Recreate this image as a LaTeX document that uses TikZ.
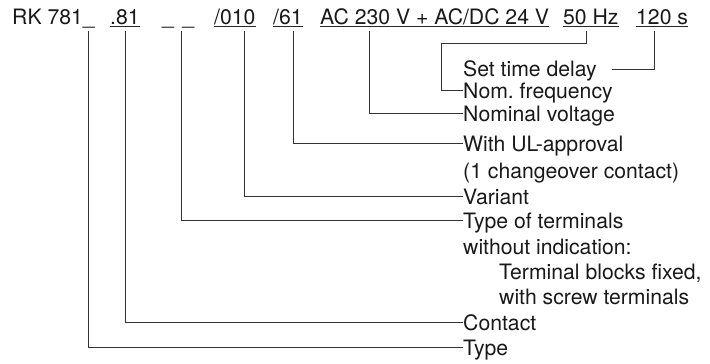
\documentclass[tikz,border=0pt]{standalone}
\usepackage{fontspec}
\setmainfont{TeX Gyre Heros}
\frenchspacing
\begin{document}
\begin{tikzpicture}[x=1pt,y=-1pt,
  txt/.style={inner sep=0pt,anchor=base west,text=black!90,text height=15pt,text depth=0pt,
    font=\fontsize{21.2}{25}\selectfont},
  conn/.style={draw=black!80,line width=1pt},
  uline/.style={draw=black!85,line width=1pt}]
\useasboundingbox (0,0) rectangle (710,364);
% top code row
\node[txt] (rk)  at (12,24)  {RK 781\_};
\node[txt] (n81) at (110,24) {.81};
\node[txt] (nbl) at (162,24) {\_\hspace{8.5pt}\_};
\node[txt] (n010) at (214,24) {/010};
\node[txt] (n61) at (273,24) {/61};
\node[txt] (nac) at (320,24) {AC 230 V + AC/DC 24 V};
\node[txt] (nhz) at (563,24) {50 Hz};
\node[txt] (ns)  at (636,24) {120 s};
\foreach \n in {n81,n010,n61,nac,nhz,ns}{
  \draw[uline] ([yshift=-2pt]\n.base west) -- ([yshift=-2pt]\n.base east);
}
% labels
\node[txt] (st)  at (463,76)  {Set time delay};
\node[txt] (nf)  at (463,98)  {Nom. frequency};
\node[txt] (nv)  at (463,121) {Nominal voltage};
\node[txt] (ul)  at (463,151) {With UL-approval};
\node[txt] (ul2) at (463,178) {(1 changeover contact)};
\node[txt] (var) at (463,204) {Variant};
\node[txt] (tt)  at (463,228) {Type of terminals};
\node[txt] (wi)  at (463,254) {without indication:};
\node[txt] (tb)  at (499,279) {Terminal blocks fixed,};
\node[txt] (sc)  at (499,304) {with screw terminals};
\node[txt] (ct)  at (463,330) {Contact};
\node[txt] (ty)  at (463,355) {Type};
% connector origins
\coordinate (cty) at (88,31);
\coordinate (cct) at (125,31);
\coordinate (ctt) at (181,31);
\coordinate (cvar) at (244,31);
\coordinate (cul) at (293,31);
\coordinate (cnv) at (369,31);
\coordinate (cnf) at (586,31);
\coordinate (bnf) at (441,43);
\coordinate (cst) at (654,31);
\coordinate (est) at (612,69);
% connectors
\draw[conn] (cty) |- (ty.west);
\draw[conn] (cct) |- (ct.west);
\draw[conn] (ctt) |- (tt.west);
\draw[conn] (cvar) |- (var.west);
\draw[conn] (cul) |- (ul.west);
\draw[conn] (cnv) |- (nv.west);
\draw[conn] (cnf) |- (bnf) |- (nf.west);
\draw[conn] (cst) |- (est);
\end{tikzpicture}
\end{document}
